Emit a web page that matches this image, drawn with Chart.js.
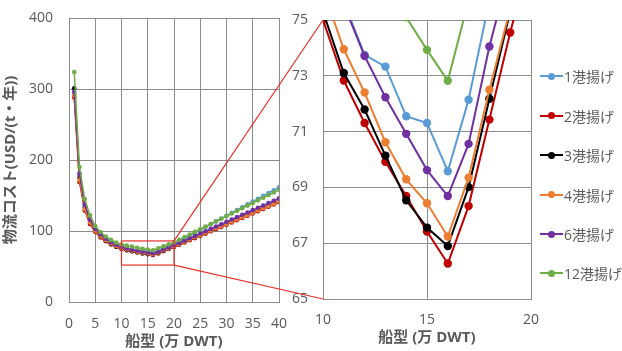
<!DOCTYPE html>
<html><head><meta charset="utf-8">
<script src="https://cdn.jsdelivr.net/npm/chart.js@4/dist/chart.umd.min.js"></script>
<style>
body{margin:0;background:#fff;width:622px;height:351px;overflow:hidden;position:relative;font-family:"Noto Sans CJK JP",sans-serif}
#lc{position:absolute;left:0;top:0}
#rc{position:absolute;left:280px;top:0}
#ov{position:absolute;left:0;top:0;pointer-events:none}
#legend{position:absolute;left:540px;top:0;width:82px;height:351px}
.li{position:absolute;left:0;height:20px;display:flex;align-items:center;white-space:nowrap;font-size:14px;color:#595959;font-family:"Open Sans","Noto Sans CJK JP",sans-serif}
.sw{position:relative;width:23px;height:20px;margin-right:1px;flex:none}
.sw .ln{position:absolute;left:0;top:9px;width:23px;height:2px}
.sw .dt{position:absolute;left:7.5px;top:6.5px;width:7px;height:7px;border-radius:50%}
</style></head>
<body>
<canvas id="lc" width="290" height="351"></canvas>
<canvas id="rc" width="260" height="351"></canvas>
<canvas id="ov" width="622" height="351"></canvas>
<div id="legend"></div>
<script>
// Ship size (万 DWT)
const sizes = [1,2,3,4,5,6,7,8,9,10,11,12,13,14,15,16,17,18,19,20,21,22,23,24,25,26,27,28,29,30,31,32,33,34,35,36,37,38,39,40];
const seriesNames = ['1港揚げ','2港揚げ','3港揚げ','4港揚げ','6港揚げ','12港揚げ'];
const port1  = [293,182,138,117,104,96,90,85.2,81.3,78.2,75.65,73.75,73.33,71.55,71.31,69.58,72.14,75.7,78.6,81.5,85.5,89.5,93.5,97.5,101.5,105.5,109.5,113.5,117.5,121.5,125.5,129.5,133.5,137.5,141.5,145.5,149.5,153.5,157.5,161.5];
const port2  = [288,169,129,110,99,91,85.5,81,77.8,75.0,72.83,71.31,69.92,68.69,67.42,66.27,68.33,71.43,74.55,77.4,80.6,83.7,86.9,90.0,93.2,96.3,99.5,102.6,105.8,108.9,112.1,115.2,118.4,121.5,124.7,127.8,131.0,134.1,137.3,140.4];
const port3  = [301,175,133,113,101,92.5,86.5,81.8,78.2,75.3,73.1,71.79,70.14,68.54,67.56,66.9,69.01,72.18,75.3,78.4,81.6,84.8,88.0,91.2,94.4,97.6,100.8,104.0,107.2,110.4,113.6,116.8,120.0,123.2,126.4,129.6,132.8,136.0,139.2,142.4];
const port4  = [291,172,131,112,100.5,92.5,86.8,82.3,78.9,76.1,73.95,72.4,70.62,69.29,68.43,67.24,69.35,72.5,75.4,78.5,81.6,84.8,87.9,91.1,94.2,97.4,100.5,103.7,106.8,110.0,113.1,116.3,119.4,122.6,125.7,128.9,132.0,135.2,138.3,141.5];
const port6  = [296,180,137,116,103,95,89,84.3,80.6,77.6,75.55,73.71,72.23,70.92,69.62,68.69,70.56,74.05,76.9,79.9,83.2,86.5,89.8,93.1,96.4,99.7,103.0,106.3,109.6,112.9,116.2,119.5,122.8,126.1,129.4,132.7,136.0,139.3,142.6,145.9];
const port12 = [324,190,145,122,107,98.5,92.3,87.5,83.8,81.0,79.4,78.0,76.5,75.1,73.93,72.82,75.7,78.5,81.2,84.0,87.7,91.4,95.1,98.8,102.5,106.2,109.9,113.6,117.3,121.0,124.7,128.4,132.1,135.8,139.5,143.2,146.9,150.6,154.3,158.0];
const seriesValues = [port1,port2,port3,port4,port6,port12];
const colors = ['#5B9BD5','#C00000','#000000','#ED7D31','#7030A0','#70AD47'];
const leftXTicks = [0,5,10,15,20,25,30,35,40];
const leftYTicks = [0,100,200,300,400];
const rightXTicks = [10,15,20];
const rightYTicks = [65,67,69,71,73,75];
const zoomBox = {x0:10, x1:20, y0:52, y1:86};
const yTitle = '物流コスト(USD/(t・年))';
const xTitle = '船型 (万 DWT)';

const FONT = '"Open Sans", "Noto Sans CJK JP", sans-serif';
const TXT = '#595959';
const GRID = '#8c8c8c';

function makeDatasets(lw, pr){
  return seriesValues.map((vals,i)=>({
    label: seriesNames[i],
    data: vals.map((v,j)=>({x:sizes[j], y:v})),
    borderColor: colors[i], backgroundColor: colors[i],
    borderWidth: lw, pointRadius: pr, pointBorderWidth: 0,
    pointBackgroundColor: colors[i], tension: 0,
    order: seriesValues.length - i
  }));
}
function scaleOpts(min,max,ticks,gap,font){
  return {type:'linear',min,max,
    afterBuildTicks: s => { s.ticks = ticks.map(v=>({value:v})); },
    grid:{color:GRID,lineWidth:1,drawTicks:true,tickLength:gap,tickColor:'rgba(0,0,0,0)'},
    border:{color:GRID,width:1},
    ticks:{padding:0,color:TXT,font:{family:FONT,size:font},autoSkip:false,maxRotation:0}};
}

const leftX = scaleOpts(0,40,leftXTicks,14,14);
leftX.title = {display:true,text:xTitle,color:TXT,font:{family:FONT,size:15,weight:'bold'},padding:{top:0,bottom:0}};
leftX.afterFit = s => { s.height = 49; };
const leftY = scaleOpts(0,400,leftYTicks,16,14);
leftY.title = {display:true,text:yTitle,color:TXT,font:{family:FONT,size:15,weight:'bold'},padding:{top:2,bottom:0}};
leftY.afterFit = s => { s.width = 69; };

const left = new Chart(document.getElementById('lc'),{
  type:'line',
  data:{datasets:makeDatasets(1.5,2.3)},
  options:{responsive:false,animation:false,devicePixelRatio:1,
    layout:{padding:{top:18,right:11,left:0,bottom:0}},
    plugins:{legend:{display:false},tooltip:{enabled:false}},
    scales:{x:leftX,y:leftY}}
});

const rightX = scaleOpts(10,20,rightXTicks,13,14);
rightX.title = {display:true,text:xTitle,color:TXT,font:{family:FONT,size:15,weight:'bold'},padding:{top:0,bottom:4}};
rightX.afterFit = s => { s.height = 52; };
const rightY = scaleOpts(65,75,rightYTicks,15,14);
rightY.afterFit = s => { s.width = 43; };

const right = new Chart(document.getElementById('rc'),{
  type:'line',
  data:{datasets:makeDatasets(2,4.2)},
  options:{responsive:false,animation:false,devicePixelRatio:1,
    layout:{padding:{top:20,right:9,left:0,bottom:0}},
    plugins:{legend:{display:false},tooltip:{enabled:false}},
    scales:{x:rightX,y:rightY}}
});

// zoom connector overlay
(function(){
  const ctx = document.getElementById('ov').getContext('2d');
  const lx = left.scales.x, ly = left.scales.y;
  const ra = right.chartArea, rOff = 280;
  const x0 = lx.getPixelForValue(zoomBox.x0), x1 = lx.getPixelForValue(zoomBox.x1);
  const yT = ly.getPixelForValue(zoomBox.y1), yB = ly.getPixelForValue(zoomBox.y0);
  ctx.strokeStyle = '#E8302B'; ctx.lineWidth = 1.2;
  ctx.strokeRect(x0, yT, x1-x0, yB-yT);
  ctx.beginPath();
  ctx.moveTo(x1, yT); ctx.lineTo(rOff+ra.left, ra.top);
  ctx.moveTo(x1, yB); ctx.lineTo(rOff+ra.left, ra.bottom);
  ctx.stroke();
})();

// legend
(function(){
  const lg = document.getElementById('legend');
  const tops = [76,115.5,155,194.5,234,273];
  seriesNames.forEach((n,i)=>{
    const d = document.createElement('div');
    d.className='li'; d.style.top=(tops[i]-10)+'px';
    d.innerHTML = '<div class="sw"><div class="ln" style="background:'+colors[i]+'"></div><div class="dt" style="background:'+colors[i]+'"></div></div><span>'+n+'</span>';
    lg.appendChild(d);
  });
})();
</script>
</body></html>
